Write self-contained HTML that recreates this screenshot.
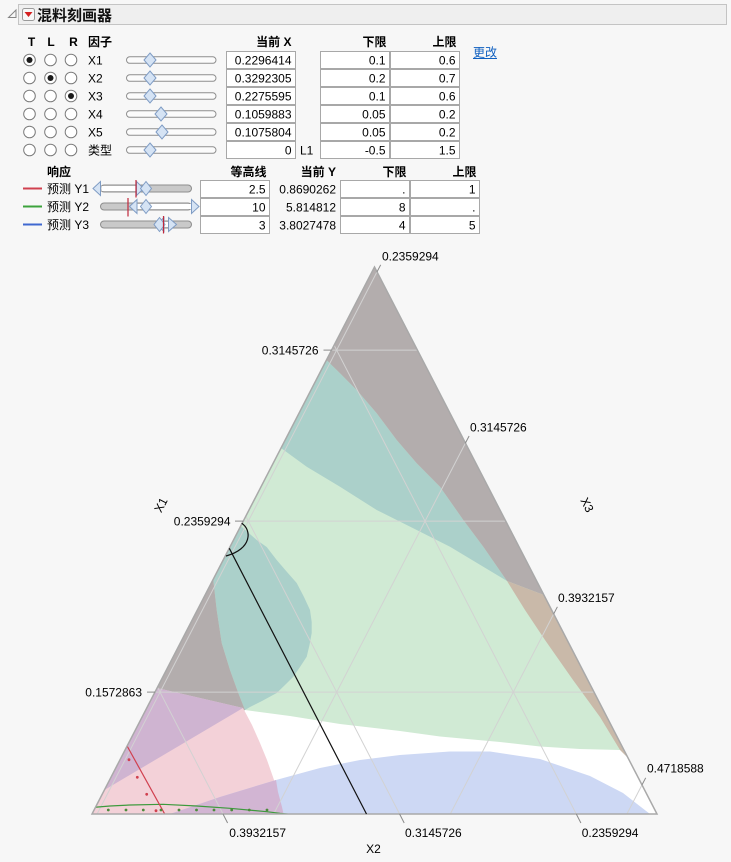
<!DOCTYPE html>
<html><head><meta charset="utf-8"><style>
html,body{margin:0;padding:0;background:#f7f7f7;}
svg{display:block;font-family:"Liberation Sans","Noto Sans CJK SC",sans-serif;}
</style></head><body>
<svg width="731" height="862" viewBox="0 0 731 862" xmlns="http://www.w3.org/2000/svg">
<rect x="0" y="0" width="731" height="862" fill="#f7f7f7"/>

<!-- Header -->
<rect x="18.5" y="4.5" width="708" height="20" fill="#efefef" stroke="#c4c4c4"/>
<path d="M16,10 L16,17.5 L8.5,17.5 Z" fill="none" stroke="#858585"/>
<rect x="22.5" y="8.5" width="12" height="12" rx="2" fill="#f8f8f8" stroke="#9a9a9a"/>
<path d="M24.5,12 L32.5,12 L28.5,17 Z" fill="#d42020"/>
<text x="37" y="20.5" font-size="15" font-weight="bold" fill="#111">混料刻画器</text>

<!-- Factor table headers -->
<g font-size="12" font-weight="bold" fill="#000">
<text x="31.5" y="46" text-anchor="middle">T</text>
<text x="51" y="46" text-anchor="middle">L</text>
<text x="73.5" y="46" text-anchor="middle">R</text>
<text x="88" y="46">因子</text>
<text x="291.5" y="46" text-anchor="end">当前 X</text>
<text x="386.5" y="46" text-anchor="end">下限</text>
<text x="456.5" y="46" text-anchor="end">上限</text>
</g>
<text x="473" y="56.5" font-size="12" fill="#1060c0">更改</text>
<line x1="473" y1="58.5" x2="497" y2="58.5" stroke="#1060c0" stroke-width="1"/>

<!-- Radios -->
<g stroke="#7a7a7a" fill="#fff" stroke-width="1">
<circle cx="29.5" cy="60" r="5.8"/><circle cx="50.5" cy="60" r="5.8"/><circle cx="71" cy="60" r="5.8"/>
<circle cx="29.5" cy="78" r="5.8"/><circle cx="50.5" cy="78" r="5.8"/><circle cx="71" cy="78" r="5.8"/>
<circle cx="29.5" cy="96" r="5.8"/><circle cx="50.5" cy="96" r="5.8"/><circle cx="71" cy="96" r="5.8"/>
<circle cx="29.5" cy="114" r="5.8"/><circle cx="50.5" cy="114" r="5.8"/><circle cx="71" cy="114" r="5.8"/>
<circle cx="29.5" cy="132" r="5.8"/><circle cx="50.5" cy="132" r="5.8"/><circle cx="71" cy="132" r="5.8"/>
<circle cx="29.5" cy="150" r="5.8"/><circle cx="50.5" cy="150" r="5.8"/><circle cx="71" cy="150" r="5.8"/>
</g>
<g fill="#1a1a1a">
<circle cx="29.5" cy="60" r="3"/><circle cx="50.5" cy="78" r="3"/><circle cx="71" cy="96" r="3"/>
</g>

<!-- Factor names -->
<g font-size="12" fill="#000">
<text x="88" y="64.3">X1</text>
<text x="88" y="82.3">X2</text>
<text x="88" y="100.3">X3</text>
<text x="88" y="118.3">X4</text>
<text x="88" y="136.3">X5</text>
<text x="88" y="154.3">类型</text>
</g>

<!-- Factor sliders -->
<g fill="#fbfbfb" stroke="#8e8e8e" stroke-width="1">
<rect x="126.5" y="56.8" width="89.5" height="6.5" rx="3.25"/>
<rect x="126.5" y="74.8" width="89.5" height="6.5" rx="3.25"/>
<rect x="126.5" y="92.8" width="89.5" height="6.5" rx="3.25"/>
<rect x="126.5" y="110.8" width="89.5" height="6.5" rx="3.25"/>
<rect x="126.5" y="128.8" width="89.5" height="6.5" rx="3.25"/>
<rect x="126.5" y="146.8" width="89.5" height="6.5" rx="3.25"/>
</g>
<g fill="#d5e3f4" stroke="#7f9cc4" stroke-width="1">
<path d="M150,53 L156,60 L150,67 L144,60 Z"/>
<path d="M150,71 L156,78 L150,85 L144,78 Z"/>
<path d="M150,89 L156,96 L150,103 L144,96 Z"/>
<path d="M161,107 L167,114 L161,121 L155,114 Z"/>
<path d="M162,125 L168,132 L162,139 L156,132 Z"/>
<path d="M150,143 L156,150 L150,157 L144,150 Z"/>
</g>

<!-- Factor table cells -->
<g fill="#fff" stroke="#a8a8a8" stroke-width="1">
<rect x="226.5" y="51.5" width="69" height="17"/>
<rect x="226.5" y="69.5" width="69" height="17"/>
<rect x="226.5" y="87.5" width="69" height="17"/>
<rect x="226.5" y="105.5" width="69" height="17"/>
<rect x="226.5" y="123.5" width="69" height="17"/>
<rect x="226.5" y="141.5" width="69" height="17"/>
<rect x="320.5" y="51.5" width="69" height="17"/><rect x="390.5" y="51.5" width="69" height="17"/>
<rect x="320.5" y="69.5" width="69" height="17"/><rect x="390.5" y="69.5" width="69" height="17"/>
<rect x="320.5" y="87.5" width="69" height="17"/><rect x="390.5" y="87.5" width="69" height="17"/>
<rect x="320.5" y="105.5" width="69" height="17"/><rect x="390.5" y="105.5" width="69" height="17"/>
<rect x="320.5" y="123.5" width="69" height="17"/><rect x="390.5" y="123.5" width="69" height="17"/>
<rect x="320.5" y="141.5" width="69" height="17"/><rect x="390.5" y="141.5" width="69" height="17"/>
</g>
<g font-size="12" fill="#000" text-anchor="end">
<text x="291.5" y="64.3">0.2296414</text>
<text x="291.5" y="82.3">0.3292305</text>
<text x="291.5" y="100.3">0.2275595</text>
<text x="291.5" y="118.3">0.1059883</text>
<text x="291.5" y="136.3">0.1075804</text>
<text x="291.5" y="154.3">0</text>
<text x="385.5" y="64.3">0.1</text><text x="455.5" y="64.3">0.6</text>
<text x="385.5" y="82.3">0.2</text><text x="455.5" y="82.3">0.7</text>
<text x="385.5" y="100.3">0.1</text><text x="455.5" y="100.3">0.6</text>
<text x="385.5" y="118.3">0.05</text><text x="455.5" y="118.3">0.2</text>
<text x="385.5" y="136.3">0.05</text><text x="455.5" y="136.3">0.2</text>
<text x="385.5" y="154.3">-0.5</text><text x="455.5" y="154.3">1.5</text>
</g>
<text x="300" y="154.3" font-size="12" fill="#000">L1</text>

<!-- Response headers -->
<g font-size="12" font-weight="bold" fill="#000">
<text x="47" y="176">响应</text>
<text x="266.5" y="176" text-anchor="end">等高线</text>
<text x="336" y="176" text-anchor="end">当前 Y</text>
<text x="406.5" y="176" text-anchor="end">下限</text>
<text x="476.5" y="176" text-anchor="end">上限</text>
</g>

<!-- Response legend lines -->
<line x1="23" y1="188.5" x2="42" y2="188.5" stroke="#d0404f" stroke-width="2"/>
<line x1="23" y1="206.5" x2="42" y2="206.5" stroke="#3ca33c" stroke-width="2"/>
<line x1="23" y1="224.5" x2="42" y2="224.5" stroke="#3f68d0" stroke-width="2"/>
<g font-size="12" fill="#000">
<text x="47" y="193">预测 Y1</text>
<text x="47" y="211">预测 Y2</text>
<text x="47" y="229">预测 Y3</text>
</g>

<!-- Response sliders -->
<g fill="#c9c9c9" stroke="#8e8e8e" stroke-width="1">
<rect x="100.5" y="185" width="91" height="7" rx="3.5"/>
<rect x="100.5" y="203" width="91" height="7" rx="3.5"/>
<rect x="100.5" y="221" width="91" height="7" rx="3.5"/>
</g>
<g fill="#fff">
<rect x="101.5" y="186" width="35" height="5"/>
<rect x="137" y="204" width="54" height="5"/>
<rect x="164" y="222" width="6" height="5"/>
</g>
<g fill="#d5e3f4" stroke="#7f9cc4" stroke-width="1">
<path d="M93,188.5 L100.5,181.5 L100.5,195.5 Z"/>
<path d="M136.5,181.5 L143.5,188.5 L136.5,195.5 Z"/>
<path d="M146,181.5 L151.5,188.5 L146,195.5 L140.5,188.5 Z"/>
<path d="M129.5,206.5 L137,199.5 L137,213.5 Z"/>
<path d="M146,199.5 L151.5,206.5 L146,213.5 L140.5,206.5 Z"/>
<path d="M191.5,199.5 L199,206.5 L191.5,213.5 Z"/>
<path d="M157,224.5 L164,217.5 L164,231.5 Z"/>
<path d="M159.5,217.5 L165,224.5 L159.5,231.5 L154,224.5 Z"/>
<path d="M168.5,217.5 L176.5,224.5 L168.5,231.5 Z"/>
</g>
<g stroke="#c0283c" stroke-width="1.2">
<line x1="136" y1="180" x2="136" y2="197.5"/>
<line x1="128" y1="198" x2="128" y2="216.5"/>
<line x1="163.5" y1="216" x2="163.5" y2="233.5"/>
</g>

<!-- Response cells -->
<g fill="#fff" stroke="#a8a8a8" stroke-width="1">
<rect x="200.5" y="180.5" width="69" height="17"/>
<rect x="200.5" y="198.5" width="69" height="17"/>
<rect x="200.5" y="216.5" width="69" height="17"/>
<rect x="340.5" y="180.5" width="69" height="17"/><rect x="410.5" y="180.5" width="69" height="17"/>
<rect x="340.5" y="198.5" width="69" height="17"/><rect x="410.5" y="198.5" width="69" height="17"/>
<rect x="340.5" y="216.5" width="69" height="17"/><rect x="410.5" y="216.5" width="69" height="17"/>
</g>
<g font-size="12" fill="#000" text-anchor="end">
<text x="265.5" y="193.3">2.5</text>
<text x="265.5" y="211.3">10</text>
<text x="265.5" y="229.3">3</text>
<text x="336" y="193.3">0.8690262</text>
<text x="336" y="211.3">5.814812</text>
<text x="336" y="229.3">3.8027478</text>
<text x="405.5" y="193.3">.</text><text x="475.5" y="193.3">1</text>
<text x="405.5" y="211.3">8</text><text x="475.5" y="211.3">.</text>
<text x="405.5" y="229.3">4</text><text x="475.5" y="229.3">5</text>
</g>

<!-- Ternary plot -->
<defs>
<clipPath id="tri"><path d="M374.5,267 L657,814 L92,814 Z"/></clipPath>
</defs>
<g clip-path="url(#tri)">
<rect x="80" y="260" width="590" height="560" fill="#ffffff"/>
<!-- green -->
<path fill="#d0ead4" d="M374.5,267 L624,750 L620,750 L580,749 L540,746.5 L500,742 L440,736.5 L400,731 L340,724 L290,716 L245,710 L157,688 Z"/>
<!-- teal upper -->
<path fill="#abd0ca" d="M326.5,360 L340,373.3 L356.7,390 L376.7,413.3 L396.7,440 L416.7,463.3 L440,486.7 L463.3,520 L483.3,546.7 L507,581 L483.3,566.7 L450,546.7 L416.7,530 L376.7,510 L340,486.7 L306.7,466.7 L281,448 L250,430 Z"/>
<!-- teal blob -->
<path fill="#abd0ca" d="M240.7,526 L256.7,540 L266.7,547 L276.7,560 L287,572 L296.7,583 L304,597 L310,610 L311.7,622 L311.7,633 L309.5,645 L306.7,656.7 L300,667 L293.3,676.7 L285,685 L276.7,693 L262,701 L250,707 L245,710 L238.3,693 L230,670 L221.7,643 L216.7,610 L213.3,580 L200,600 Z"/>
<!-- gray top -->
<path fill="#b3adad" d="M374.5,267 L543.9,595 L507,581 L483.3,546.7 L463.3,520 L440,486.7 L416.7,463.3 L396.7,440 L376.7,413.3 L356.7,390 L340,373.3 L326.5,360 L320,350 Z"/>
<!-- gray left strip -->
<path fill="#b3adad" d="M213.3,580 L216.7,610 L221.7,643 L230,670 L238.3,693 L245,710 L104.4,790 L90,800 L200,570 Z"/>
<!-- brown strip -->
<path fill="#c9b9a9" d="M507,581 L543.9,595 L630,760 L620,750 L600,717 L573,680 L545,640 L525,610 Z"/>
<!-- pink -->
<path fill="#f3d1d8" d="M157,688 L243,708 L252,725 L260,743 L267,760 L273,777 L278,792 L282,807 L284,816 L85,816 L150,680 Z"/>
<!-- upper purple -->
<path fill="#cfb4d1" d="M157,688 L243,708 L104.4,790 L95,800 L150,680 Z"/>
<!-- blue -->
<path fill="#cdd8f4" d="M170,814 L220,797 L276,780 L320,768 L360,760 L400,755 L450,751.5 L490,751.5 L540,759 L590,776 L623,793 L650,814 L650,820 L170,820 Z"/>
<!-- lower purple -->
<path fill="#d2b5d3" d="M170,814 L220,797 L276,780 L278,792 L282,807 L284,816 L170,816 Z"/>

<!-- grid lines -->
<g stroke="#d2d2d2" stroke-width="1" fill="none">
<line x1="155" y1="692.1" x2="594" y2="692.1"/>
<line x1="243.3" y1="521.1" x2="505.7" y2="521.1"/>
<line x1="331.6" y1="350.1" x2="417.4" y2="350.1"/>
<line x1="157.5" y1="687.2" x2="223" y2="814"/>
<line x1="245.8" y1="516.2" x2="399.6" y2="814"/>
<line x1="334.1" y1="345.2" x2="576.3" y2="814"/>
<line x1="377" y1="271.9" x2="97.1" y2="814"/>
<line x1="465.4" y1="443.1" x2="273.7" y2="814"/>
<line x1="553.7" y1="613.9" x2="450.3" y2="814"/>
<line x1="642" y1="784.9" x2="626.9" y2="814"/>
</g>

<!-- contours -->
<polyline fill="none" stroke="#3d9a3d" stroke-width="1.2" points="92,807.5 110,806 130,805 163,804.3 196.7,806 230,808.3 266.7,811.7 280,813.3 298,815"/>
<line x1="127.1" y1="746" x2="165" y2="814.5" stroke="#d0404f" stroke-width="1.2"/>
</g>

<!-- triangle outline -->
<path d="M374.5,267 L657,814 L92,814 Z" fill="none" stroke="#a9a9a9" stroke-width="1.5"/>

<!-- contour dots -->
<g fill="#d0404f">
<circle cx="129" cy="759.7" r="1.4"/>
<circle cx="137.3" cy="777.3" r="1.4"/>
<circle cx="146.7" cy="794.3" r="1.4"/>
<circle cx="156" cy="810.7" r="1.4"/>
</g>
<g fill="#4b8b3b">
<circle cx="108.3" cy="810" r="1.4"/>
<circle cx="126" cy="810" r="1.4"/>
<circle cx="143.3" cy="810" r="1.4"/>
<circle cx="161" cy="810" r="1.4"/>
<circle cx="179" cy="810" r="1.4"/>
<circle cx="196.5" cy="810" r="1.4"/>
<circle cx="214" cy="810" r="1.4"/>
<circle cx="231.7" cy="810" r="1.4"/>
<circle cx="249.3" cy="810" r="1.4"/>
<circle cx="267" cy="810" r="1.4"/>
</g>

<!-- current point line & arc -->
<line x1="229.3" y1="548.3" x2="366.5" y2="814" stroke="#111" stroke-width="1.2"/>
<path d="M241.7,523.3 C252,530 252,549 226,556" fill="none" stroke="#111" stroke-width="1.2"/>

<!-- ticks -->
<g stroke="#8a8a8a" stroke-width="1">
<line x1="147" y1="692.1" x2="155" y2="692.1"/>
<line x1="235" y1="521.1" x2="243.3" y2="521.1"/>
<line x1="323.5" y1="350.1" x2="331.6" y2="350.1"/>
<line x1="223" y1="814" x2="227.6" y2="823"/>
<line x1="399.6" y1="814" x2="404.2" y2="823"/>
<line x1="576.3" y1="814" x2="580.9" y2="823"/>
<line x1="377" y1="271.9" x2="380.7" y2="264.8"/>
<line x1="465.4" y1="443.1" x2="469.1" y2="436"/>
<line x1="553.7" y1="613.9" x2="557.4" y2="606.8"/>
<line x1="642" y1="784.9" x2="645.7" y2="777.8"/>
</g>

<!-- tick labels -->
<g font-size="12" fill="#000">
<text x="142" y="696.5" text-anchor="end">0.1572863</text>
<text x="230.5" y="525.5" text-anchor="end">0.2359294</text>
<text x="318.5" y="354.5" text-anchor="end">0.3145726</text>
<text x="229.3" y="837">0.3932157</text>
<text x="405" y="837">0.3145726</text>
<text x="581.7" y="837">0.2359294</text>
<text x="382" y="260.3">0.2359294</text>
<text x="470" y="431.3">0.3145726</text>
<text x="558" y="602">0.3932157</text>
<text x="647" y="772.5">0.4718588</text>
</g>

<!-- axis titles -->
<g font-size="12" fill="#000">
<text x="0" y="0" text-anchor="middle" transform="translate(161,505) rotate(-62.7) translate(0,4)">X1</text>
<text x="0" y="0" text-anchor="middle" transform="translate(587,505) rotate(62.7) translate(0,4)">X3</text>
<text x="373.5" y="853" text-anchor="middle">X2</text>
</g>
</svg>
</body></html>
